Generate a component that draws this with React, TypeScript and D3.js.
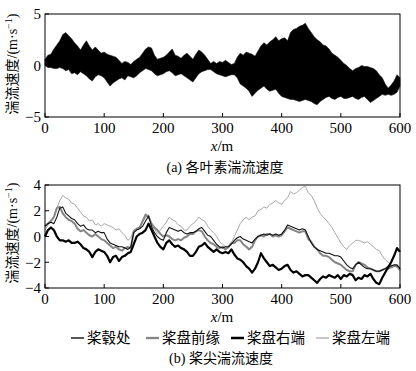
import React from 'react';
import * as d3 from 'd3';

// sampling positions along the track, metres
const distance = d3.range(0, 601, 5);

// (a) envelope of the dense element signal
const bandUpper = [
  0.6, 1.0, 1.1, 1.6, 2.0, 2.4, 3.0, 3.2, 2.9, 2.6, 2.2, 1.9, 1.5, 2.0, 2.4, 1.9, 1.5, 1.8, 1.5, 1.2,
  1.3, 1.1, 1.0, 0.9, 0.8, 0.5, 0.2, 0.4, 0.3, 0.1, 0.4, 0.6, 0.8, 1.2, 1.6, 1.8, 1.7, 1.0, 0.6, 0.7,
  0.8, 1.0, 1.3, 1.6, 1.0, 0.9, 0.7, 1.0, 1.2, 0.9, 0.6, 1.1, 1.5, 1.3, 1.0, 0.6, 0.2, 0.4, 0.2, 0.4,
  0.3, 0.5, 0.3, 0.1, 0.2, 0.8, 1.2, 1.0, 1.3, 1.2, 1.1, 0.9, 1.4, 1.9, 2.2, 2.0, 2.3, 2.5, 2.8, 2.4,
  2.6, 2.7, 2.4, 3.2, 3.5, 3.6, 3.8, 3.9, 4.1, 3.6, 3.2, 2.8, 2.5, 2.3, 2.0, 1.9, 1.6, 1.2, 1.0, 0.8,
  0.5, 0.2, 0.0, -0.3, -0.5, -0.3, -0.2, 0.0, -0.1, -0.1, -0.2, -0.3, -0.5, -0.9, -1.2, -1.8, -2.2, -1.9, -1.5, -0.9,
  -1.2,
];
const bandLower = [
  0, -0.2, -0.2, -0.3, -0.3, -0.2, -0.3, -0.5, -0.4, -0.8, -0.7, -0.9, -0.6, -0.8, -1.0, -1.3, -1.5, -1.1, -0.9, -1.0,
  -1.2, -1.6, -2.0, -1.7, -1.5, -1.3, -1.2, -1.4, -1.0, -1.1, -1.2, -1.0, -0.7, -0.5, -0.3, -0.4, -0.5, -0.8, -1.0, -0.9,
  -0.8, -0.6, -0.5, -0.7, -1.0, -0.9, -0.8, -1.0, -1.2, -1.4, -1.6, -1.2, -0.8, -0.6, -0.5, -0.4, -0.4, -0.6, -0.8, -0.9,
  -1.0, -1.1, -1.0, -0.9, -0.9, -1.2, -1.8, -2.0, -2.2, -2.5, -3.0, -2.7, -2.4, -2.2, -2.0, -2.3, -2.5, -2.4, -2.3, -2.7,
  -3.0, -3.1, -3.2, -3.3, -3.3, -3.4, -3.5, -3.4, -3.3, -3.4, -3.5, -3.7, -3.8, -3.5, -3.3, -3.1, -3.0, -3.2, -3.3, -3.1,
  -3.0, -3.2, -3.2, -3.1, -3.0, -3.2, -3.3, -3.1, -3.0, -3.3, -3.6, -3.4, -3.2, -3.0, -2.8, -2.9, -2.8, -2.9, -2.8, -2.6,
  -2.0,
];

// (b) tip series
const hubSpeed = [
  0.8, 1.0, 1.1, 1.0, 1.5, 2.2, 2.3, 1.8, 1.6, 1.4, 1.3, 1.0, 0.8, 0.9, 0.6, 0.5, 0.5, 0.3, 0.4, 0.3,
  0.3, -0.2, -0.5, -0.6, -0.7, -0.8, -0.8, -0.9, -1.0, -0.8, 0.3, 0.5, 0.6, 0.8, 1.2, 1.6, 0.8, 0.3, 0.0, -0.2,
  -0.3, 0.3, 0.7, 0.6, 0.5, 0.4, 0.5, 0.3, 0.2, 0.3, 0.3, 0.4, 0.6, 0.7, 0.4, 0.1, 0.0, -0.3, -0.6, -0.8,
  -0.9, -0.8, -0.8, -0.6, -0.3, -0.1, 0.0, -0.2, -0.3, -0.4, -0.5, -0.2, 0.0, 0.1, 0.2, 0.1, 0.2, 0.1, 0.2, 0.1,
  0.2, 0.5, 0.9, 0.8, 0.7, 0.6, 0.5, 0.6, 0.5, 0.0, -0.5, -0.8, -1.0, -1.1, -1.2, -1.3, -1.3, -1.4, -1.5, -1.5,
  -1.6, -1.9, -2.2, -2.4, -2.5, -2.2, -2.0, -2.2, -2.4, -2.5, -2.5, -2.6, -2.7, -2.7, -2.6, -2.5, -2.3, -2.3, -2.2, -2.2,
  -2.5,
];
const leadingEdge = [
  0.8, 1.0, 1.2, 1.5, 2.2, 2.3, 1.8, 1.5, 1.3, 1.2, 1.0, 0.6, 0.4, 0.5, 0.3, 0.1, 0.0, 0.2, 0.0, -0.2,
  -0.3, -0.5, -0.7, -0.9, -0.8, -1.0, -1.1, -0.9, -0.8, -0.9, 0.4, 0.6, 0.7, 1.2, 1.7, 1.5, 1.0, 0.7, 0.5, 0.2,
  0.0, 0.1, 0.0, -0.2, -0.3, -0.2, -0.3, -0.1, 0.0, 0.2, 0.2, 0.4, 0.5, 0.4, 0.0, -0.3, -0.5, -0.6, -0.8, -0.9,
  -0.8, -1.0, -0.8, -0.5, -0.5, -0.3, -0.3, -0.6, -0.8, -1.0, -0.8, -0.3, 0.0, 0.1, 0.0, 0.2, 0.2, 0.0, 0.1, 0.0,
  0.1, 0.4, 0.7, 0.6, 0.5, 0.4, 0.3, 0.4, 0.4, -0.2, -0.4, -0.8, -1.0, -1.3, -1.5, -1.5, -1.6, -1.8, -2.0, -2.1,
  -2.2, -2.4, -2.6, -2.7, -2.7, -2.2, -2.0, -2.1, -2.2, -2.4, -2.5, -2.6, -2.7, -2.7, -2.6, -2.5, -2.5, -2.4, -2.3, -2.3,
  -2.6,
];
const rightEnd = [
  0.0, 0.5, 0.7, 0.5, 0.0, -0.3, -0.3, -0.4, -0.3, -0.5, -0.5, -0.4, -0.6, -0.9, -1.0, -1.2, -1.6, -1.2, -1.0, -1.1,
  -1.2, -1.5, -2.0, -1.6, -1.5, -1.9, -1.6, -1.5, -1.3, -1.2, -0.6, 0.0, 0.2, 0.3, 0.5, 1.0, 0.5, 0.0, -0.5, -0.8,
  -1.0, -0.5, -0.3, -0.6, -0.8, -0.7, -0.9, -1.0, -1.2, -1.5, -1.5, -1.2, -0.8, -0.7, -0.5, -0.8, -1.0, -1.2, -1.0, -1.2,
  -1.3, -1.2, -1.3, -1.0, -1.4, -1.7, -1.8, -2.0, -2.3, -2.5, -2.8, -2.5, -2.0, -1.3, -1.7, -2.0, -2.3, -2.2, -2.4, -2.6,
  -2.5, -2.3, -2.2, -2.6, -2.8, -2.7, -2.9, -3.1, -3.0, -3.0, -3.2, -3.4, -3.6, -3.3, -3.1, -3.2, -3.0, -3.1, -3.2, -3.0,
  -3.3, -3.0, -3.1, -2.9, -3.0, -3.4, -3.2, -3.3, -3.0, -3.1, -2.9, -3.3, -3.6, -3.7, -3.2, -2.8, -2.4, -2.0, -1.5, -0.9,
  -1.2,
];
const leftEnd = [
  0.5, 0.9, 1.2, 1.5, 2.2, 2.8, 3.2, 3.0, 2.9, 2.6, 2.5, 2.2, 1.9, 1.6, 1.5, 1.2, 1.3, 0.9, 1.0, 0.8,
  1.0, 0.9, 0.8, 0.7, 0.5, 0.6, 0.3, 0.1, -0.3, -0.1, 0.5, 0.6, 0.7, 1.1, 1.5, 1.7, 1.0, 0.6, 0.2, 0.5,
  0.8, 1.1, 1.5, 1.3, 1.2, 0.9, 0.8, 0.5, 0.5, 0.8, 1.0, 1.2, 1.5, 1.3, 1.2, 0.8, 0.5, 0.3, 0.0, -0.4,
  -0.6, -0.8, -0.9, -0.5, 0.0, 0.5, 1.0, 1.3, 1.5, 1.3, 1.5, 1.6, 2.0, 2.1, 2.3, 2.2, 2.5, 2.6, 2.8, 2.6,
  2.5, 2.8, 3.0, 3.5, 3.3, 3.4, 3.6, 3.8, 3.9, 3.4, 3.2, 2.8, 2.2, 1.8, 1.5, 1.3, 1.0, 0.7, 0.3, -0.1,
  -0.5, -0.8, -1.0, -0.7, -0.5, -0.3, -0.3, -0.4, -0.5, -0.4, -0.6, -0.8, -1.0, -1.1, -1.5, -1.8, -2.0, -2.2, -2.3, -2.4,
  -2.5,
];

const xTicks = [0, 100, 200, 300, 400, 500, 600];
const topYTicks = [-5, 0, 5];
const bottomYTicks = [-4, -2, 0, 2, 4];
const legendLabels = ['桨毂处', '桨盘前缘', '桨盘右端', '桨盘左端'];

const latin = '"Liberation Serif", "Times New Roman", serif';
const cjk = '"Liberation Serif", "Noto Sans CJK SC", serif';
const fmt = (v: number) => (v < 0 ? '\u2212' + Math.abs(v) : String(v));

const x = d3.scaleLinear().domain([0, 600]).range([45, 400]);
const yTop = d3.scaleLinear().domain([-5, 5]).range([117, 14]);
const yBot = d3.scaleLinear().domain([-4, 4]).range([288, 185]);

const series = [
  { name: legendLabels[3], data: leftEnd, color: '#a8a8a8', width: 1 },
  { name: legendLabels[1], data: leadingEdge, color: '#858585', width: 2 },
  { name: legendLabels[0], data: hubSpeed, color: '#111', width: 1.1 },
  { name: legendLabels[2], data: rightEnd, color: '#000', width: 2.2 },
];
const legendStyle: Record<string, { color: string; width: number }> = {};
series.forEach((s) => (legendStyle[s.name] = { color: s.color, width: s.width }));

function Axes({ y, yTicks, top, bottom }: any) {
  return (
    <g>
      <rect x={45} y={top} width={355} height={bottom - top} fill="none" stroke="#000" strokeWidth={1} />
      {xTicks.map((t) => (
        <g key={'x' + t}>
          <line x1={x(t)} x2={x(t)} y1={bottom} y2={bottom - 4} stroke="#000" />
          <text x={x(t)} y={bottom + 16} textAnchor="middle" fontSize={15} fontFamily={latin}>
            {t}
          </text>
        </g>
      ))}
      {yTicks.map((t: number) => (
        <g key={'y' + t}>
          <line x1={45} x2={49} y1={y(t)} y2={y(t)} stroke="#000" />
          <text x={41} y={y(t)} dy="0.35em" textAnchor="end" fontSize={15} fontFamily={latin}>
            {fmt(t)}
          </text>
        </g>
      ))}
    </g>
  );
}

function YLabel({ cx, cy }: any) {
  return (
    <text transform={`translate(${cx},${cy}) rotate(-90)`} textAnchor="middle" dy="0.35em" fontSize={14} fontFamily={cjk}>
      湍流速度/(m·s<tspan dy={-5} fontSize={10}>−1</tspan>
      <tspan dy={5}>)</tspan>
    </text>
  );
}

export default function App() {
  const area = d3
    .area<number>()
    .x((_, i) => x(distance[i]))
    .y0((_, i) => yTop(bandLower[i]))
    .y1((_, i) => yTop(bandUpper[i]));
  const line = (data: number[]) =>
    d3
      .line<number>()
      .x((_, i) => x(distance[i]))
      .y((d) => yBot(d))(data) as string;

  const legendX = [71, 146, 231, 316];

  return (
    <svg width={416} height={371} style={{ position: 'absolute', left: 0, top: 0, background: '#fff' }}>
      <rect width={416} height={371} fill="#fff" />
      {/* (a) */}
      <path d={area(bandUpper) as string} fill="#000" stroke="#111" strokeWidth={0.6} />
      <Axes y={yTop} yTicks={topYTicks} top={14} bottom={117} />
      <YLabel cx={12} cy={64} />
      <text x={222} y={151} textAnchor="middle" fontSize={15} fontFamily={latin}>
        <tspan fontStyle="italic">x</tspan>/m
      </text>
      <text x={225} y={172} textAnchor="middle" fontSize={14} fontFamily={cjk}>
        (a) 各叶素湍流速度
      </text>

      {/* (b) */}
      {series.map((s) => (
        <path key={s.name} d={line(s.data)} fill="none" stroke={s.color} strokeWidth={s.width} strokeLinejoin="round" />
      ))}
      <Axes y={yBot} yTicks={bottomYTicks} top={185} bottom={288} />
      <YLabel cx={12} cy={233} />
      <text x={222} y={322} textAnchor="middle" fontSize={15} fontFamily={latin}>
        <tspan fontStyle="italic">x</tspan>/m
      </text>
      {legendLabels.map((name, i) => (
        <g key={name}>
          <line
            x1={legendX[i]}
            x2={legendX[i] + 13}
            y1={338}
            y2={338}
            stroke={legendStyle[name].color}
            strokeWidth={legendStyle[name].width + 0.3}
          />
          <text x={legendX[i] + 16} y={338} dy="0.35em" fontSize={14.5} fontFamily={cjk}>
            {name}
          </text>
        </g>
      ))}
      <text x={221} y={363} textAnchor="middle" fontSize={14} fontFamily={cjk}>
        (b) 桨尖湍流速度
      </text>
    </svg>
  );
}
